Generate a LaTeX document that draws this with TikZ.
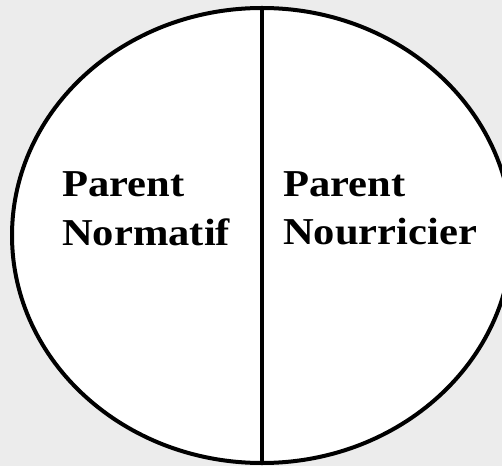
\documentclass[tikz,border=0pt]{standalone}
\usepackage{fontspec}
\setmainfont{Liberation Serif}
\usetikzlibrary{shapes.geometric}
\definecolor{bgray}{RGB}{236,236,236}
\tikzset{
  oval/.style={ellipse, draw=black, fill=white, line width=4pt, inner sep=0pt, outer sep=0pt,
    minimum width=500pt, minimum height=455pt},
  divider/.style={line width=4pt, black},
  label/.style={anchor=base west, inner sep=0pt, font=\fontsize{38}{48}\selectfont\bfseries}
}
\newcommand{\wide}[1]{\scalebox{1.12}[1]{#1}}
\begin{document}
\begin{tikzpicture}[x=1pt,y=1pt]
  \useasboundingbox (0,0) rectangle (502,466);
  \fill[bgray] (0,0) rectangle (502,466);
  \clip (0,0) rectangle (502,466);
  \node[oval] (e) at (262,230.5) {};
  \draw[divider] (e.north) -- (e.south);
  \node[label] (p1) at (62,269) {\wide{Parent}};
  \node[label] (n1) at (62,221) {\wide{Normatif}};
  \node[label] (p2) at (283,269) {\wide{Parent}};
  \node[label] (n2) at (283,222) {\wide{Nourricier}};
\end{tikzpicture}
\end{document}
